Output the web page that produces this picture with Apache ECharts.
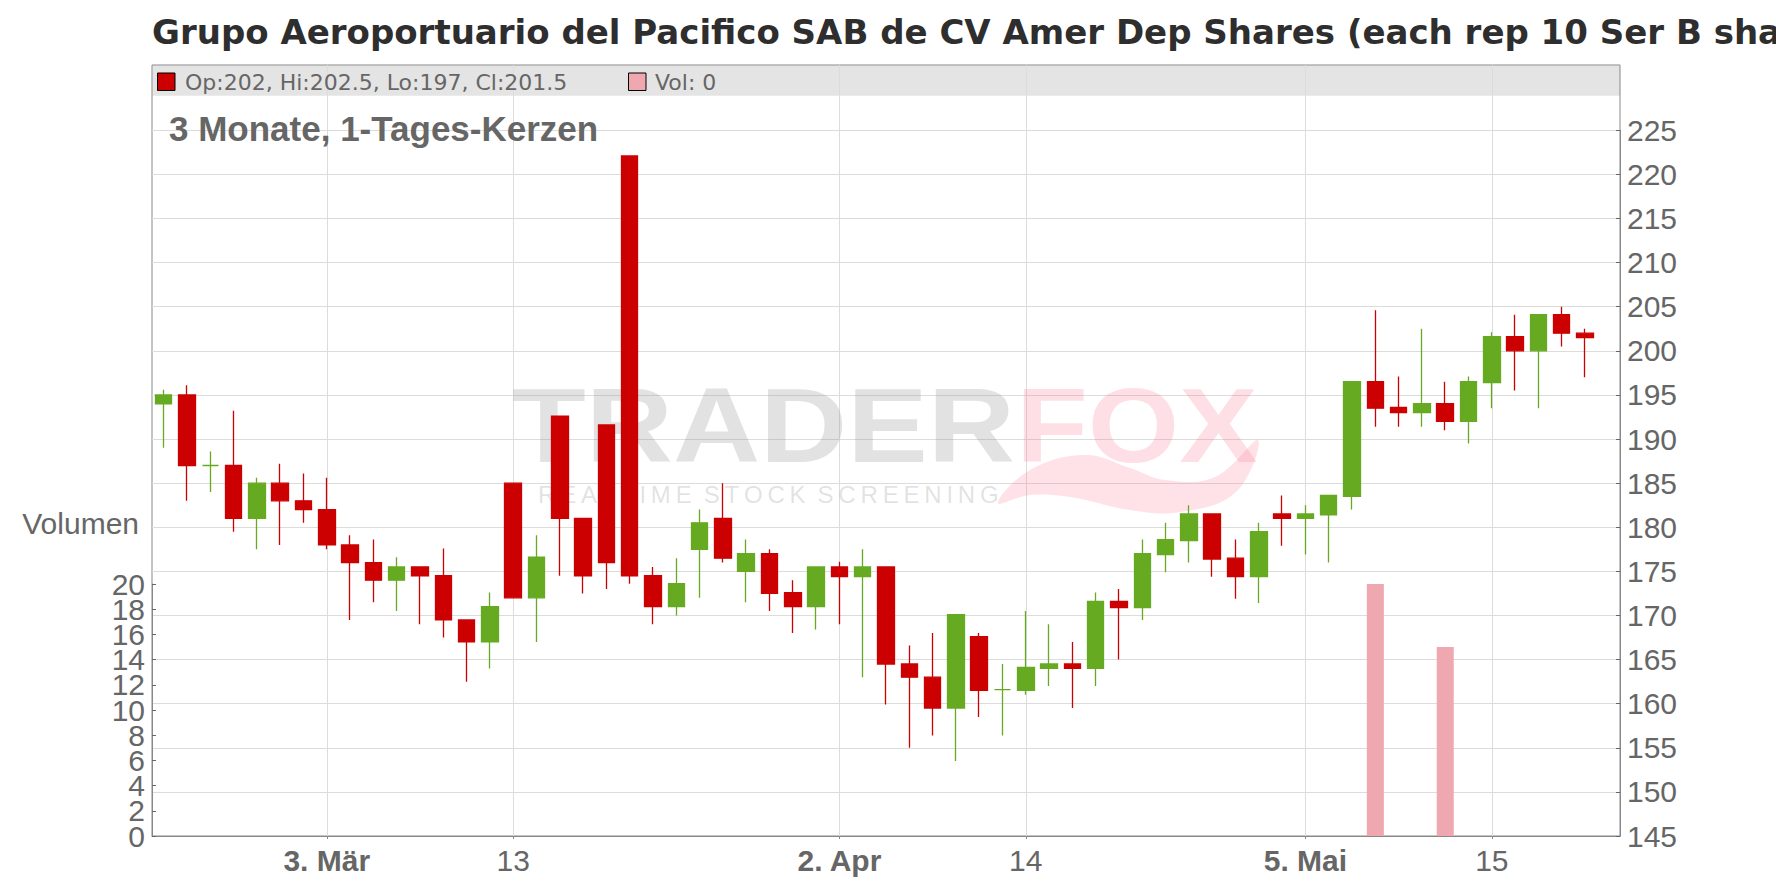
<!DOCTYPE html>
<html>
<head>
<meta charset="utf-8">
<script src="https://cdn.jsdelivr.net/npm/echarts@6/dist/echarts.min.js"></script>
<style>
html,body{margin:0;padding:0;background:#fff;}
#chart{width:1776px;height:888px;}
</style>
</head>
<body>
<div id="chart"></div>
<script>
// ---------- data ----------
const dates = [
 '2025-02-20','2025-02-21','2025-02-24','2025-02-25','2025-02-26','2025-02-27','2025-02-28',
 '2025-03-03','2025-03-04','2025-03-05','2025-03-06','2025-03-07',
 '2025-03-10','2025-03-11','2025-03-12','2025-03-13','2025-03-14',
 '2025-03-17','2025-03-18','2025-03-19','2025-03-20','2025-03-21',
 '2025-03-24','2025-03-25','2025-03-26','2025-03-27','2025-03-28',
 '2025-03-31','2025-04-01','2025-04-02','2025-04-03','2025-04-04',
 '2025-04-07','2025-04-08','2025-04-09','2025-04-10','2025-04-11',
 '2025-04-14','2025-04-15','2025-04-16','2025-04-17',
 '2025-04-22','2025-04-23','2025-04-24','2025-04-25',
 '2025-04-28','2025-04-29','2025-04-30','2025-05-02',
 '2025-05-05','2025-05-06','2025-05-07','2025-05-08','2025-05-09',
 '2025-05-12','2025-05-13','2025-05-14','2025-05-15','2025-05-16',
 '2025-05-19','2025-05-20','2025-05-21','2025-05-22'
];
const open = [
 194,195,187,187,181,185,183,182,178,176,
 174,175.5,174.5,169.5,167,185,172,192.6,181,191.6,
 222.1,174.5,171,177.5,181,175,177,172.6,171,175.5,
 174.4,175.5,164.5,163,159.5,167.6,161.6,161.5,164,164.5,
 164,171.6,170.9,176.9,178.5,181.5,176.5,174.4,181.5,181,
 181.4,183.5,196.5,193.6,193,194,192,196.4,201.6,200,
 204.1,202
];
const high = [
 195.6,196.1,188.6,193.2,185.6,187.2,186.1,185.6,179.1,178.6,
 176.6,175.5,177.6,169.5,172.6,185,179.1,192.6,181,191.6,
 222.1,175.5,176.5,182,185,178.6,177.5,174,175.5,176.1,
 177.5,175.5,166.6,168,170.1,168,164.5,170.5,169,167,
 172.6,173,178.6,180.5,182.5,181.5,178.6,180.5,183.6,182.5,
 183.6,196.5,204.6,197.1,202.5,196.5,197.1,202.1,204.1,204.1,
 205,202.5
];
const low = [
 189,183,184,179.5,177.5,178,180.5,177.5,169.5,171.5,
 170.5,169,167.5,162.5,164,172,167,174.5,172.5,173,
 173.6,169,170,172,176,171.5,170.5,168,168.4,169,
 163,159.9,155,156.4,153.5,158.5,156.4,161,162,159.5,
 162,165,169.5,174.9,176,174.4,171.9,171.4,177.9,176.9,
 176,182,191.4,191.4,191.4,191,189.5,193.5,195.5,193.5,
 200.5,197
];
const close = [
 195,187,187,181,185,183,182,178,176,174,
 175.5,174.5,169.5,167,171,172,176.6,181,174.5,176,
 174.5,171,173.6,180.5,176.5,177,172.5,171,175.5,174.4,
 175.5,164.5,163,159.5,170.1,161.5,161.6,164.1,164.5,164,
 171.6,170.9,177,178.6,181.5,176.4,174.4,179.5,181,181.5,
 183.6,196.5,193.5,193,194,192,196.5,201.6,200,204.1,
 202,201.5
];
const volume = [
 0,0,0,0,0,0,0,0,0,0,
 0,0,0,0,0,0,0,0,0,0,
 0,0,0,0,0,0,0,0,0,0,
 0,0,0,0,0,0,0,0,0,0,
 0,0,0,0,0,0,0,0,0,0,
 0,0,20,0,0,15,0,0,0,0,
 0,0
];
const tickDates  = ['2025-03-03','2025-03-13','2025-04-02','2025-04-14','2025-05-05','2025-05-15'];
const tickLabels = ['3. Mär','13','2. Apr','14','5. Mai','15'];
const tickBold   = [true,false,true,false,true,false];

const titleText = 'Grupo Aeroportuario del Pacifico SAB de CV Amer Dep Shares (each rep 10 Ser B shares)';
const subTitleText = '3 Monate, 1-Tages-Kerzen';

// ---------- derived ----------
const candleData = dates.map((d, i) => i < open.length ? [open[i], close[i], low[i], high[i]] : '-');
const volData = dates.map((d, i) => i < volume.length ? volume[i] : '-');
const last = open.length - 1;
const legendText = 'Op:' + open[last] + ', Hi:' + high[last] + ', Lo:' + low[last] + ', Cl:' + close[last];
const volLegendText = 'Vol: ' + volume[last];

const UP = '#66aa22', DOWN = '#cc0000', VOL = '#efa7b0';
const AX = '#888888', GRID = '#dcdcdc', LBL = '#666666';
const isTick = (idx, val) => tickDates.indexOf(val) >= 0;
const spaced = (s) => s.split(' ').map(w => w.split('').join('\u2009')).join('\u2002');

const volAxisBase = {
  gridIndex: 2, type: 'value', position: 'left', min: 0, max: 20, interval: 2, offset: 0,
  splitLine: {show: false}
};
const volLabelStyle = {show: true, margin: 7, fontSize: 30, color: LBL, fontFamily: 'Liberation Sans',
                       hideOverlap: false, showMinLabel: true, showMaxLabel: true};

const chart = echarts.init(document.getElementById('chart'), null, {renderer: 'svg', width: 1776, height: 888});

const option = {
  animation: false,
  backgroundColor: '#ffffff',
  title: [
    {text: titleText, left: 152, top: 15, padding: 0,
     textStyle: {fontFamily: 'DejaVu Sans', fontWeight: 'bold', fontSize: 34, color: '#2e2e2e'}},
    {text: subTitleText, left: 169, top: 110.5, padding: 0,
     textStyle: {fontFamily: 'Liberation Sans', fontWeight: 'bold', fontSize: 35, color: '#666666'}}
  ],
  grid: [
    {left: 152, right: 156, top: 65, bottom: 52, show: true, borderColor: AX, borderWidth: 1,
     backgroundColor: 'transparent', containLabel: false, outerBoundsMode: 'none'},
    {left: 152, right: 156, top: 130.3, bottom: 52, containLabel: false, outerBoundsMode: 'none'},
    {left: 152, right: 156, top: 584, bottom: 52, containLabel: false, outerBoundsMode: 'none'}
  ],
  xAxis: [
    {gridIndex: 0, type: 'category', data: dates, boundaryGap: true,
     axisLine: {show: true, lineStyle: {color: AX, width: 1}},
     axisTick: {show: true, alignWithLabel: true, interval: isTick, length: 3, inside: false,
                lineStyle: {color: AX, width: 1}},
     axisLabel: {show: true, interval: isTick, margin: 9, fontSize: 30, color: LBL,
                 fontFamily: 'Liberation Sans', hideOverlap: false,
                 formatter: (v) => {
                   const k = tickDates.indexOf(v);
                   if (k < 0) return '';
                   return tickBold[k] ? '{b|' + tickLabels[k] + '}' : tickLabels[k];
                 },
                 rich: {b: {fontFamily: 'Liberation Sans', fontWeight: 'bold', fontSize: 30, color: LBL}}},
     splitLine: {show: true, interval: isTick, alignWithLabel: true, lineStyle: {color: GRID, width: 1}}},
    {gridIndex: 1, type: 'category', data: dates, boundaryGap: true, show: false},
    {gridIndex: 2, type: 'category', data: dates, boundaryGap: true, show: false}
  ],
  yAxis: [
    {gridIndex: 0, type: 'value', show: false, min: 0, max: 1, splitLine: {show: false}},
    {gridIndex: 1, type: 'value', position: 'right', min: 145, max: 225, interval: 5,
     axisLine: {show: true, lineStyle: {color: AX, width: 1}},
     axisTick: {show: true, inside: true, length: 4, lineStyle: {color: '#666', width: 1}},
     axisLabel: {show: true, margin: 7, fontSize: 30, color: LBL, fontFamily: 'Liberation Sans',
                 hideOverlap: false, showMinLabel: true, showMaxLabel: true},
     splitLine: {show: true, lineStyle: {color: GRID, width: 1}}},
    // volume axis: line, ticks and labels 0,4,8,...,20
    Object.assign({}, volAxisBase, {
     axisLine: {show: true, lineStyle: {color: AX, width: 1}},
     axisTick: {show: true, inside: true, length: 4, lineStyle: {color: '#666', width: 1}},
     axisLabel: Object.assign({}, volLabelStyle, {formatter: (v) => (v % 4 === 0 ? String(v) : '')})}),
    // volume axis: labels 2,6,...,18
    Object.assign({}, volAxisBase, {
     axisLine: {show: false}, axisTick: {show: false},
     axisLabel: Object.assign({}, volLabelStyle, {formatter: (v) => (v % 4 === 2 ? String(v) : '')})})
  ],
  series: [
    {name: 'Kurs', type: 'candlestick', xAxisIndex: 1, yAxisIndex: 1, data: candleData,
     barWidth: 17, z: 3,
     itemStyle: {color: UP, color0: DOWN, borderColor: UP, borderColor0: DOWN,
                 borderColorDoji: UP, borderWidth: 1.3}},
    {name: 'Vol', type: 'bar', xAxisIndex: 2, yAxisIndex: 2, data: volData, barWidth: 17, z: 3,
     itemStyle: {color: VOL}}
  ],
  graphic: [
    {type: 'rect', z: -10, silent: true, shape: {x: 152.5, y: 65.5, width: 1467.5, height: 30.2},
     style: {fill: '#e4e4e4'}},
    {type: 'rect', z: 10, shape: {x: 157.5, y: 73, width: 17.5, height: 17.5},
     style: {fill: DOWN, stroke: '#000', lineWidth: 1}},
    {type: 'text', z: 10, x: 185, y: 82,
     style: {text: legendText, fill: LBL, font: '22px "DejaVu Sans"', textAlign: 'left', textVerticalAlign: 'middle'}},
    {type: 'rect', z: 10, shape: {x: 628.5, y: 73, width: 17.5, height: 17.5},
     style: {fill: VOL, stroke: '#000', lineWidth: 1}},
    {type: 'text', z: 10, x: 655, y: 82,
     style: {text: volLegendText, fill: LBL, font: '22px "DejaVu Sans"', textAlign: 'left', textVerticalAlign: 'middle'}},
    {type: 'text', z: 10, x: 139, y: 523,
     style: {text: 'Volumen', fill: LBL, font: '30px "Liberation Sans"', textAlign: 'right', textVerticalAlign: 'middle'}},
    // watermark
    {type: 'text', z: 1, silent: true, x: 512, y: 426, scaleX: 1.15,
     style: {text: 'TRADER', fill: 'rgba(140,140,140,0.25)', font: 'bold 105px "Liberation Sans"', textAlign: 'left', textVerticalAlign: 'middle'}},
    {type: 'text', z: 1, silent: true, x: 1016, y: 426, scaleX: 1.12,
     style: {text: 'FOX', fill: 'rgba(250,110,135,0.22)', font: 'bold 105px "Liberation Sans"', textAlign: 'left', textVerticalAlign: 'middle'}},
    {type: 'text', z: 1, silent: true, x: 538, y: 494,
     style: {text: spaced('REALTIME STOCK SCREENING'), fill: 'rgba(140,140,140,0.25)', font: '24px "Liberation Sans"', textAlign: 'left', textVerticalAlign: 'middle'}},
    {type: 'polygon', z: 1, silent: true,
     shape: {smooth: 0.4, points: [[998,503],[1030,470],[1085,455],[1130,468],[1165,480],[1215,477],[1258,440],[1236,492],[1180,512],[1130,510],[1070,497],[1030,495]]},
     style: {fill: 'rgba(250,110,135,0.2)'}}
  ]
};
chart.setOption(option);
</script>
</body>
</html>
